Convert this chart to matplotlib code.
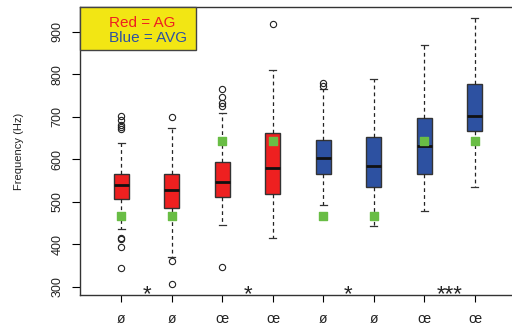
import matplotlib
matplotlib.use("Agg")
import matplotlib.pyplot as plt
import matplotlib.transforms as mtransforms

plt.rcParams['font.family'] = ['Liberation Sans', 'DejaVu Sans']

# box statistics (Hz)
positions = [1, 2, 3, 4, 5, 6, 7, 8]
q1 = [507, 485, 511, 517, 565, 534, 565, 665]
med = [538, 528, 545, 579, 602, 584, 631, 702]
q3 = [565, 566, 593, 662, 645, 652, 697, 777]
whislo = [435, 370, 445, 415, 491, 443, 477, 535]
whishi = [639, 673, 708, 810, 765, 789, 869, 931]
fliers = [
    [702, 691, 681, 676, 671, 415, 411, 394, 344],
    [700, 360, 306],
    [764, 746, 732, 726, 347],
    [918],
    [779, 773],
    [],
    [],
    [],
]
groups = ['AG', 'AG', 'AG', 'AG', 'AVG', 'AVG', 'AVG', 'AVG']
ref_vals = [467, 467, 643, 643, 467, 467, 643, 643]
xlabels = ['ø', 'ø', 'œ', 'œ', 'ø', 'ø', 'œ', 'œ']
star_pos = [1.5, 3.5, 5.5, 7.5]
star_txt = ['*', '*', '*', '***']

colors = {'AG': '#ee2020', 'AVG': '#2d51a1'}

fig = plt.figure(figsize=(5.12, 3.27), dpi=100)
ax = fig.add_axes([80 / 512, 32 / 327, 436 / 512, 288 / 327])

stats = []
for i in range(len(positions)):
    stats.append(dict(q1=q1[i], med=med[i], q3=q3[i], whislo=whislo[i],
                      whishi=whishi[i], fliers=fliers[i]))

bp = ax.bxp(stats, positions=positions, widths=0.3, patch_artist=True,
            showfliers=True,
            boxprops=dict(edgecolor='#333333', linewidth=1.0),
            medianprops=dict(color='#111111', linewidth=2.0),
            whiskerprops=dict(color='#222222', linestyle=(0, (3, 2.5)), linewidth=0.9),
            capprops=dict(color='#333333', linewidth=0.9),
            flierprops=dict(marker='o', markerfacecolor='none',
                            markeredgecolor='#222222', markersize=4.5,
                            markeredgewidth=0.8))
for c in bp['caps']:
    x = c.get_xdata()
    m = (x[0] + x[1]) / 2
    c.set_xdata([m - 0.07, m + 0.07])
for patch, g in zip(bp['boxes'], groups):
    patch.set_facecolor(colors[g])

ax.scatter(positions, ref_vals, marker='s', s=30, color='#69bd45', zorder=5)

ax.set_xlim(0.18, 8.82)
ax.set_ylim(280, 958)
ax.set_yticks([300, 400, 500, 600, 700, 800, 900])
ax.set_yticklabels(['300', '400', '500', '600', '700', '800', '900'],
                   rotation=90, va='center', fontsize=9, color='#222222')
ax.set_xticks(positions)
ax.set_xticklabels(xlabels, fontsize=10, color='#222222')
ax.tick_params(axis='x', length=5, pad=7, width=0.8)
ax.tick_params(axis='y', length=6, pad=6, width=0.8)
ax.set_ylabel('Frequency (Hz)', fontsize=8, color='#222222', labelpad=20)

for s in ax.spines.values():
    s.set_color('#333333')
    s.set_linewidth(1.0)

trans = mtransforms.blended_transform_factory(ax.transData, ax.transAxes)
for p, t in zip(star_pos, star_txt):
    ax.text(p, -0.035, t, transform=trans, ha='center', va='bottom',
            fontsize=16, color='#222222')

# colour key
ax.add_patch(plt.Rectangle((0, 0.85), 0.265, 0.15, transform=ax.transAxes,
                           facecolor='#f2e614', edgecolor='#444444',
                           linewidth=1.0, zorder=6, clip_on=False))
ax.text(0.066, 0.945, 'Red = AG', transform=ax.transAxes, color='#ee2020',
        fontsize=11, va='center', zorder=7)
ax.text(0.067, 0.893, 'Blue = AVG', transform=ax.transAxes, color='#2d51a1',
        fontsize=11, va='center', zorder=7)

fig.savefig('out.png', dpi=100)
